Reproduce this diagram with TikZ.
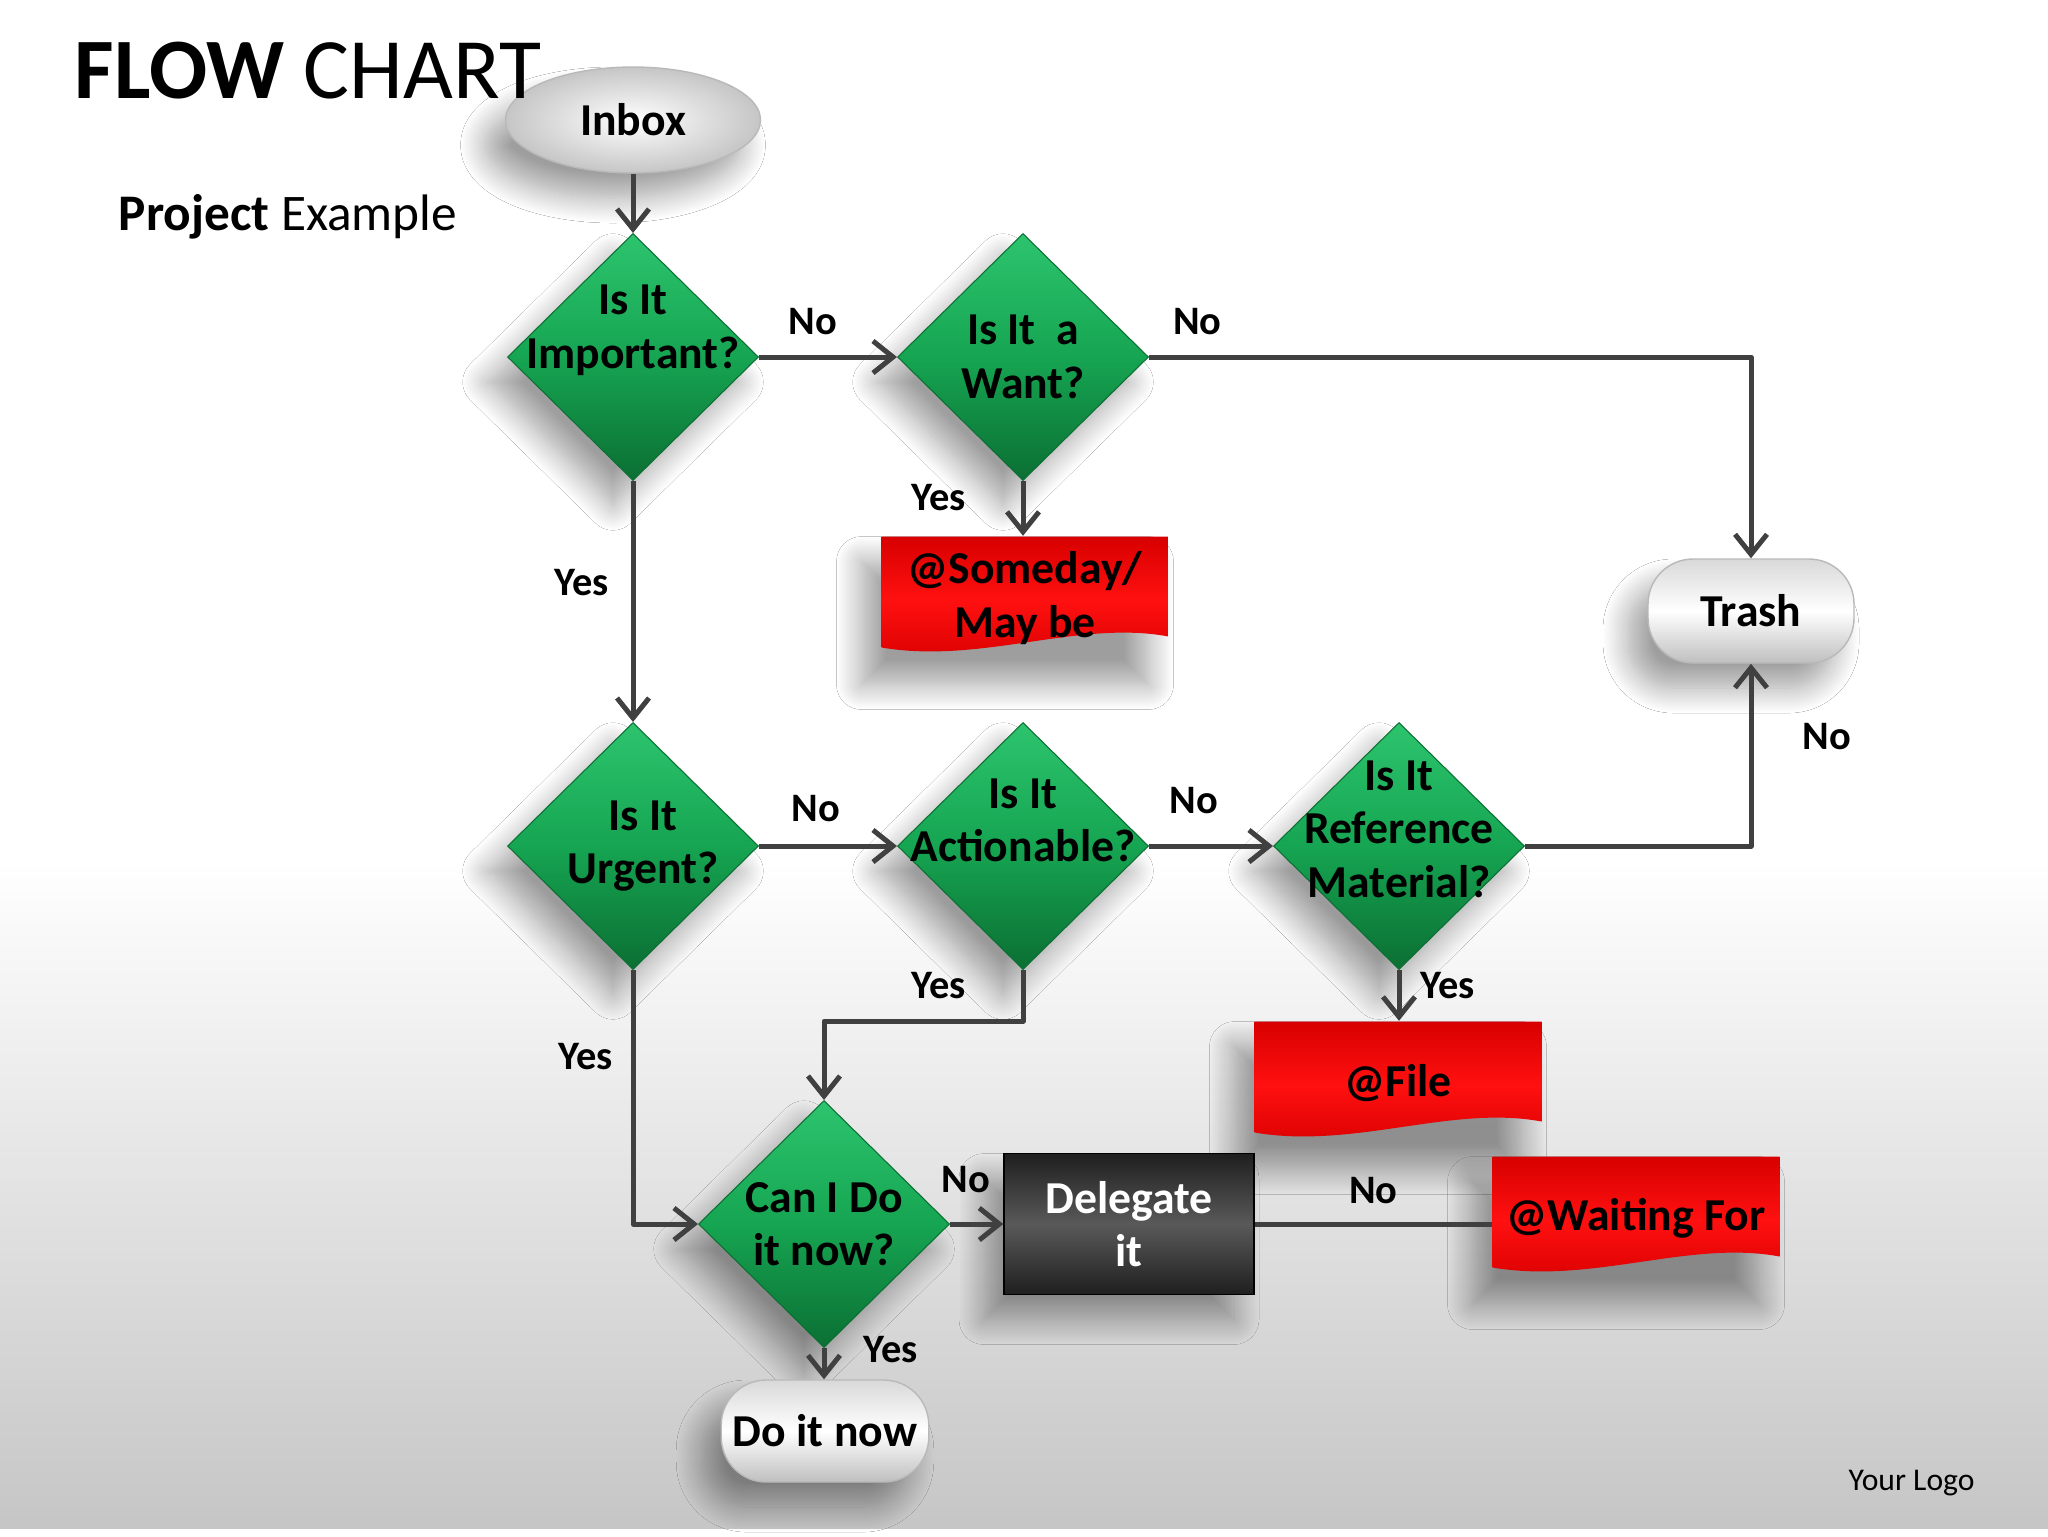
\documentclass[tikz,border=0pt]{standalone}
\usepackage{fontspec}
\setmainfont{Carlito}
\usetikzlibrary{shapes.geometric,arrows.meta,shadows.blur}

\definecolor{greenhi}{HTML}{2DC46E}
\definecolor{greenmid}{HTML}{16A552}
\definecolor{greenlo}{HTML}{0B6F33}
\definecolor{redhi}{HTML}{FF1010}
\definecolor{redlo}{HTML}{D80000}
\definecolor{linegray}{HTML}{404040}

\newcommand{\qtxtfont}{\bfseries\fontsize{13}{15.2}\selectfont}
\newcommand{\lbltxtfont}{\bfseries\fontsize{11.5}{13}\selectfont}
\newcommand{\liftby}[1]{\rule[-#1]{0pt}{#1}}

\tikzset{
  shade box/.style={blur shadow={shadow xshift=-2mm, shadow yshift=-2.5mm,
      shadow blur radius=2.5mm, shadow blur steps=24, shadow opacity=38}},
  question/.style={diamond, shade box, minimum width=25.1mm, minimum height=24.7mm,
      inner sep=-15mm, top color=greenhi, bottom color=greenlo, middle color=greenmid,
      draw=greenlo, line width=0.3pt, font=\qtxtfont, align=center},
  docbox/.style={rectangle, shade box, minimum width=28.7mm, minimum height=12.3mm,
      inner sep=0pt, font=\qtxtfont, align=center,
      path picture={\shade[top color=redlo, bottom color=redlo, middle color=redhi]
        (path picture bounding box.north west) -- (path picture bounding box.north east)
        -- ([yshift=2.3mm]path picture bounding box.south east)
        .. controls ([xshift=-9mm,yshift=4mm]path picture bounding box.south east)
        and ([xshift=10mm,yshift=-0.5mm]path picture bounding box.south west)
        .. ([yshift=1.2mm]path picture bounding box.south west) -- cycle;}},
  pill/.style={rectangle, rounded corners=4.5mm, shade box, minimum width=20.6mm,
      minimum height=10.4mm, top color=gray!30, bottom color=gray!50, middle color=white,
      draw=gray!55, font=\qtxtfont},
  start/.style={ellipse, shade box, minimum width=25.5mm, minimum height=10.6mm,
      inner color=white, outer color=gray!45, draw=gray!55, font=\qtxtfont},
  task/.style={rectangle, shade box, minimum width=25mm, minimum height=14.1mm,
      top color=black!88, bottom color=black!88, middle color=black!65, draw=black,
      text=white, font=\qtxtfont, align=center},
  arr/.style={draw=linegray, line width=0.5mm, line join=round,
      -{Straight Barb[length=2mm, width=3.2mm]}},
  plain/.style={draw=linegray, line width=0.5mm},
  lbl/.style={font=\lbltxtfont, inner sep=0pt}
}

\begin{document}
\begin{tikzpicture}[x=0.1mm, y=-0.1mm]
  % page
  \useasboundingbox (0,0) rectangle (2048,1536);
  \fill[white] (0,0) rectangle (2048,1536);
  \shade[top color=white, bottom color=gray!45] (0,860) rectangle (2048,1528);

  % boxes
  \node[start] (inbox) at (633,120) {Inbox};
  \node[question] (imp) at (633,357) {Is It\\Important?\liftby{6.1mm}};
  \node[question] (want) at (1023,357) {Is It~ a\\Want?};
  \node[docbox] (someday) at (1025,598) {@Someday/\\May be};
  \node[pill] (trash) at (1751,611) {Trash};
  \node[question] (urg) at (633,846) {\hspace*{2mm}Is It\\\hspace*{2mm}Urgent?};
  \node[question] (act) at (1023,846) {Is It\\Actionable?\liftby{5.2mm}};
  \node[question] (ref) at (1399,846) {Is It\\Reference\\Material?\liftby{3.4mm}};
  \node[docbox] (file) at (1398,1083) {@File};
  \node[question] (now) at (824,1224) {Can I Do\\it now?};
  \node[task] (deleg) at (1129,1224) {Delegate\\it};
  \node[docbox] (wait) at (1636,1218) {@Waiting For};
  \node[pill, minimum width=19.9mm, minimum height=10.2mm] (doit) at (825,1431) {Do it now};

  % connectors
  \draw[arr] (inbox) -- (imp);
  \draw[arr] (imp.east) -- node[lbl, pos=0.39, above=2mm] (n1) {No} (want.west);
  \draw[arr] (want.east) -| node[lbl, pos=0.04, above=2mm] (n2) {No} (trash.north);
  \draw[arr] (want.south) -- node[lbl, pos=0.3, left=5.5mm] (y1) {Yes} (want.south |- someday.north);
  \draw[arr] (imp.south) -- node[lbl, pos=0.42, left=2.2mm] (y2) {Yes} (urg.north);
  \draw[arr] (urg.east) -- node[lbl, pos=0.41, above=2.2mm] (n3) {No} (act.west);
  \draw[arr] (act.east) -- node[lbl, pos=0.36, above=3mm] (n4) {No} (ref.west);
  \draw[arr] (ref.east) -| node[lbl, pos=0.8, right=4.9mm] (n5) {No} (trash.south);
  \draw[arr] (ref.south) -- node[lbl, pos=0.3, right=1.9mm] (y3) {Yes} (ref.south |- file.north);
  \draw[arr] (act.south) -- node[lbl, pos=0.3, left=5.5mm] (y4) {Yes} ++(0,51) -| (now.north);
  \draw[arr] (urg.south) |- node[lbl, pos=0.17, left=1.8mm] (y5) {Yes} (now.west);
  \draw[arr] (now.east) -- node[lbl, pos=0.3, above=2.9mm] (n6) {No} (deleg.west);
  \draw[plain] (deleg.east) -- node[lbl, above=1.8mm] (n7) {No} (deleg.east -| wait.west);
  \draw[arr] (now.south) -- node[lbl, pos=0.05, right=3.7mm] (y6) {Yes} (now.south |- doit.north);

  % headings
  \node[anchor=base west, inner sep=0pt, font=\fontsize{24.5}{29}\selectfont] (title) at (74,98) {\textbf{FLOW} CHART};
  \node[anchor=base west, inner sep=0pt, font=\fontsize{14.6}{18}\selectfont] (sub) at (118,230) {\textbf{Project} Example};
  \node[anchor=base west, inner sep=0pt, font=\fontsize{9}{11}\selectfont] (logo) at (1848,1490) {Your Logo};
\end{tikzpicture}
\end{document}
